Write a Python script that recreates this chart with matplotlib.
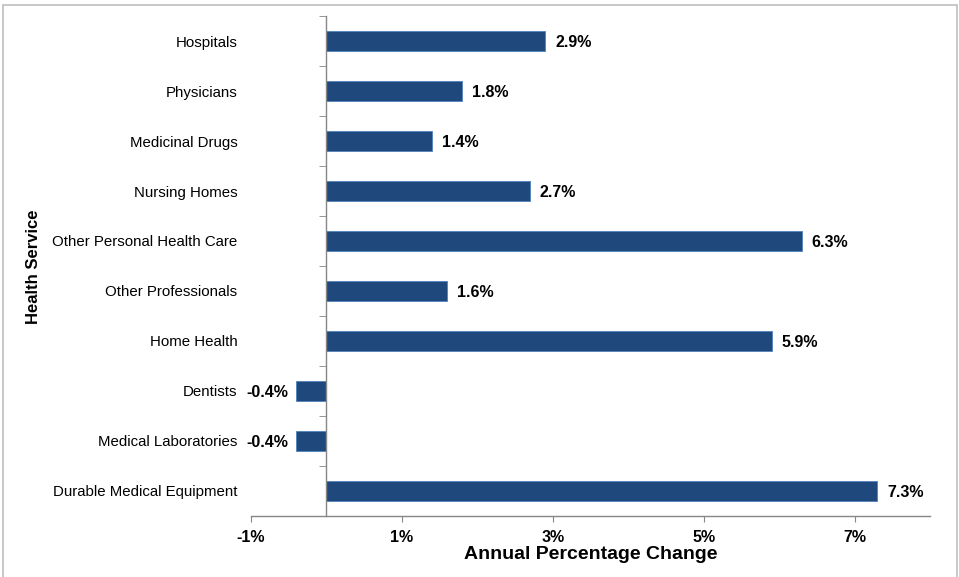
import numpy as np
import matplotlib.pyplot as plt
from matplotlib.patches import Rectangle
from matplotlib.ticker import FixedLocator

plt.rcParams['font.family'] = ['Liberation Sans', 'DejaVu Sans']

# 服务类别与年度变化（%）
services = ['Hospitals', 'Physicians', 'Medicinal Drugs', 'Nursing Homes',
            'Other Personal Health Care', 'Other Professionals', 'Home Health',
            'Dentists', 'Medical Laboratories', 'Durable Medical Equipment']
changes = [2.9, 1.8, 1.4, 2.7, 6.3, 1.6, 5.9, -0.4, -0.4, 7.3]
x_ticks = [-1, 1, 3, 5, 7]
x_tick_labels = ['-1%', '1%', '3%', '5%', '7%']

bar_color = '#1F497D'
axis_color = '#868686'

fig = plt.figure(figsize=(9.59, 5.77), dpi=100)
ax = fig.add_axes([251 / 959, 1 - 516 / 577, 679 / 959, 500 / 577])

y = np.arange(len(services))
ax.barh(y, changes, height=0.4, color=bar_color, edgecolor='#4F81BD', linewidth=0.6)

ax.set_xlim(-1, 8)
ax.set_ylim(len(services) - 0.5, -0.5)

# 纵轴放在 0 处，刻度在类别之间
ax.spines['left'].set_position(('data', 0))
ax.spines['top'].set_visible(False)
ax.spines['right'].set_visible(False)
for s in ('left', 'bottom'):
    ax.spines[s].set_color(axis_color)
    ax.spines[s].set_linewidth(1.0)

ax.set_yticks(y)
ax.set_yticklabels([])
ax.tick_params(axis='y', which='major', length=0)
ax.yaxis.set_minor_locator(FixedLocator(np.arange(-0.5, len(services), 1.0)))
ax.tick_params(axis='y', which='minor', length=5, color=axis_color, direction='out')

ax.set_xticks(x_ticks)
ax.set_xticklabels(x_tick_labels, fontsize=11.5, fontweight='bold')
ax.tick_params(axis='x', length=4, color=axis_color, direction='out', pad=6)

# 类别名称
for yi, name in zip(y, services):
    ax.text(-0.02, yi + 0.03, name, transform=ax.get_yaxis_transform(),
            ha='right', va='center', fontsize=10.8)

# 数值标签
for yi, v in zip(y, changes):
    if v >= 0:
        ax.text(v + 0.13, yi + 0.03, f'{v:.1f}%', ha='left', va='center',
                fontsize=11.5, fontweight='bold')
    else:
        ax.text(v - 0.1, yi + 0.03, f'{v:.1f}%', ha='right', va='center',
                fontsize=11.5, fontweight='bold')

ax.set_xlabel('Annual Percentage Change', fontsize=14, fontweight='bold', labelpad=1)
fig.text(33 / 959, 1 - 267 / 577, 'Health Service', rotation=90, ha='center', va='center',
         fontsize=12, fontweight='bold')

# 外框
fig.patches.append(Rectangle((2.5 / 959, -0.05), 954.5 / 959, 1.05 - 4.5 / 577,
                             transform=fig.transFigure, fill=False,
                             edgecolor='#bfbfbf', linewidth=1.2))

fig.savefig('out.png', dpi=100)
